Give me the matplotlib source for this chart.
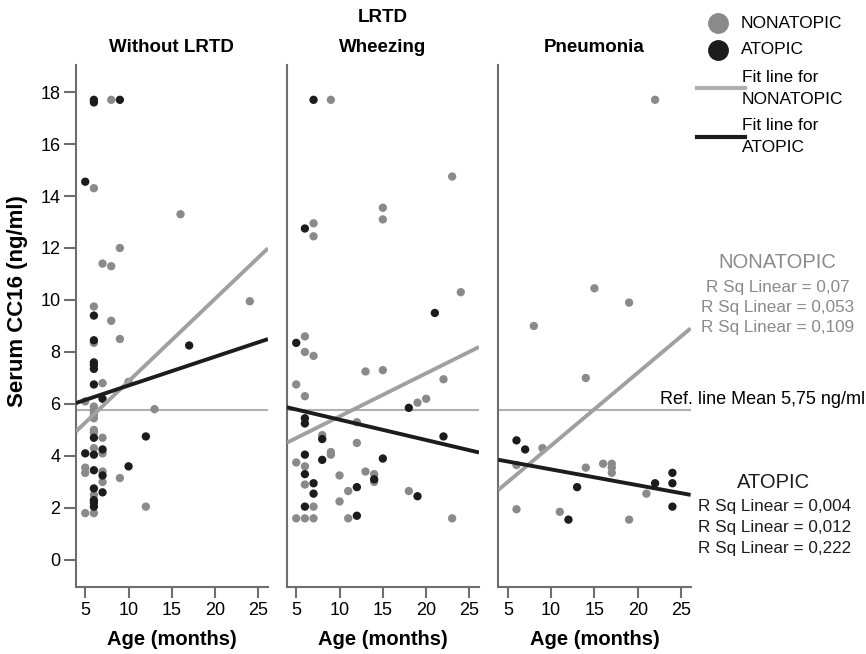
import matplotlib
matplotlib.use("Agg")
import matplotlib.pyplot as plt
from matplotlib.lines import Line2D

W_PX, H_PX = 866, 654

PANELS = ["Without LRTD", "Wheezing", "Pneumonia"]

# Without LRTD
NOLRTD_NONATOPIC_AGE = [8, 6, 16, 9, 7, 8, 24, 6, 8, 9, 6, 7, 10, 5, 6, 6, 6, 6, 13, 6, 6, 7, 7, 6,
                        5, 5, 7, 7, 9, 6, 12, 5, 6]
NOLRTD_NONATOPIC_CC16 = [17.7, 14.3, 13.3, 12.0, 11.4, 11.3, 9.95, 9.75, 9.2, 8.5, 8.35, 6.8, 6.85, 6.1,
                         5.9, 5.75, 5.6, 5.45, 5.8, 5.0, 4.9, 4.7, 4.1, 4.3, 3.55, 3.35, 3.4, 3.0, 3.15,
                         2.5, 2.05, 1.8, 1.8]
NOLRTD_ATOPIC_AGE = [6, 6, 9, 5, 6, 6, 17, 6, 6, 6, 6, 7, 6, 12, 7, 5, 6, 6, 10, 7, 6, 7, 6, 6, 6]
NOLRTD_ATOPIC_CC16 = [17.7, 17.6, 17.7, 14.55, 9.4, 8.45, 8.25, 7.6, 7.5, 7.35, 6.75, 6.2, 4.7, 4.75,
                      4.25, 4.1, 4.05, 3.45, 3.6, 3.25, 2.75, 2.6, 2.3, 2.2, 2.05]

# Wheezing
WHEEZ_NONATOPIC_AGE = [9, 23, 15, 15, 7, 7, 24, 6, 6, 7, 13, 15, 22, 5, 6, 20, 19, 12, 8, 12, 9, 9, 5,
                       6, 10, 13, 14, 14, 6, 11, 18, 10, 7, 5, 6, 7, 11, 23]
WHEEZ_NONATOPIC_CC16 = [17.7, 14.75, 13.55, 13.1, 12.95, 12.45, 10.3, 8.6, 8.0, 7.85, 7.25, 7.3, 6.95,
                        6.75, 6.3, 6.2, 6.05, 5.3, 4.8, 4.5, 4.15, 4.05, 3.75, 3.6, 3.25, 3.4, 3.3, 3.0,
                        2.9, 2.65, 2.65, 2.25, 2.05, 1.6, 1.6, 1.6, 1.6, 1.6]
WHEEZ_ATOPIC_AGE = [7, 6, 21, 5, 18, 6, 6, 8, 22, 6, 8, 15, 14, 6, 7, 7, 12, 19, 6, 12]
WHEEZ_ATOPIC_CC16 = [17.7, 12.75, 9.5, 8.35, 5.85, 5.45, 5.25, 4.65, 4.75, 4.05, 3.85, 3.9, 3.1, 3.3,
                     2.95, 2.55, 2.8, 2.45, 2.05, 1.7]

# Pneumonia
PNEU_NONATOPIC_AGE = [22, 15, 19, 8, 14, 9, 6, 14, 16, 17, 17, 17, 21, 6, 11, 19]
PNEU_NONATOPIC_CC16 = [17.7, 10.45, 9.9, 9.0, 7.0, 4.3, 3.65, 3.55, 3.7, 3.7, 3.55, 3.35, 2.55, 1.95,
                       1.85, 1.55]
PNEU_ATOPIC_AGE = [6, 7, 13, 22, 24, 24, 24, 12]
PNEU_ATOPIC_CC16 = [4.6, 4.25, 2.8, 2.95, 3.35, 2.95, 2.05, 1.55]

# fit lines: intercept, slope per panel
FIT_NONATOPIC = [(3.69, 0.318), (3.86, 0.166), (1.60, 0.280)]
FIT_ATOPIC = [(5.60, 0.111), (6.18, -0.0784), (4.09, -0.0608)]

REF_MEAN = "5,75"
REF_VALUE = 5.75
R2_NONATOPIC = ["0,07", "0,053", "0,109"]
R2_ATOPIC = ["0,004", "0,012", "0,222"]

GREY = "#8a8a8a"
BLACK = "#1c1c1c"
FIT_GREY = "#a0a0a0"
REF_GREY = "#b0b0b0"
SPINE = "#6e6e6e"

XLIM = (3.9, 26.1)
YLIM = (-1.03, 19.04)


def fx(px):
    return px / W_PX


def fy(py):
    return 1 - py / H_PX


def draw_panel(ax, title, non_x, non_y, at_x, at_y, fit_non, fit_at, first):
    ax.set_xlim(*XLIM)
    ax.set_ylim(*YLIM)
    ax.axhline(REF_VALUE, color=REF_GREY, lw=1.5, zorder=1)
    ax.scatter(non_x, non_y, s=36, color=GREY, edgecolors="none", zorder=2)
    ax.scatter(at_x, at_y, s=36, color=BLACK, edgecolors="none", zorder=3)
    xs = list(XLIM)
    b, m = fit_non
    ax.plot(xs, [b + m * x for x in xs], color=FIT_GREY, lw=2.8, zorder=4, solid_capstyle="butt")
    b, m = fit_at
    ax.plot(xs, [b + m * x for x in xs], color=BLACK, lw=2.8, zorder=5, solid_capstyle="butt")

    for side in ["top", "right"]:
        ax.spines[side].set_visible(False)
    for side in ["left", "bottom"]:
        ax.spines[side].set_color(SPINE)
        ax.spines[side].set_linewidth(1.5)
    ax.set_xticks([5, 10, 15, 20, 25])
    ax.tick_params(axis="x", direction="out", length=8, width=1.5, color=SPINE,
                   labelsize=13, pad=3)
    if first:
        ax.set_yticks(range(0, 19, 2))
        ax.tick_params(axis="y", direction="out", length=9, width=1.5, color=SPINE,
                       labelsize=13, pad=2)
    else:
        ax.set_yticks([])
    ax.set_xlabel("Age (months)", fontsize=14.5, fontweight="bold", labelpad=8)
    ax.set_title(title, fontsize=13.5, fontweight="bold", pad=9)


def draw_legend(fig):
    fig.add_artist(Line2D([fx(718)], [fy(23)], marker="o", ms=14, color=GREY, lw=0,
                          transform=fig.transFigure))
    fig.text(fx(741), fy(23), "NONATOPIC", fontsize=12.5, va="center", ha="left")
    fig.add_artist(Line2D([fx(718)], [fy(50)], marker="o", ms=14, color=BLACK, lw=0,
                          transform=fig.transFigure))
    fig.text(fx(741), fy(50), "ATOPIC", fontsize=12.5, va="center", ha="left")
    fig.add_artist(Line2D([fx(697), fx(745)], [fy(88), fy(88)], color="#b0b0b0", lw=3,
                          transform=fig.transFigure))
    fig.text(fx(742), fy(77), "Fit line for", fontsize=12.5, va="center", ha="left")
    fig.text(fx(742), fy(99), "NONATOPIC", fontsize=12.5, va="center", ha="left")
    fig.add_artist(Line2D([fx(697), fx(745)], [fy(137), fy(137)], color=BLACK, lw=3,
                          transform=fig.transFigure))
    fig.text(fx(742), fy(125), "Fit line for", fontsize=12.5, va="center", ha="left")
    fig.text(fx(742), fy(147), "ATOPIC", fontsize=12.5, va="center", ha="left")


def draw_annotations(fig):
    fig.text(fx(777), fy(262), "NONATOPIC", fontsize=14.5, color=GREY, ha="center", va="center")
    for i, r2 in enumerate(R2_NONATOPIC):
        fig.text(fx(778), fy(287 + 20.5 * i), f"R Sq Linear = {r2}", fontsize=12.3, color=GREY,
                 ha="center", va="center")
    fig.text(fx(865), fy(400), f"Ref. line Mean {REF_MEAN} ng/ml",
             fontsize=13, ha="right", va="center")
    fig.text(fx(774), fy(483), "ATOPIC", fontsize=14.5, color=BLACK, ha="center", va="center")
    for i, r2 in enumerate(R2_ATOPIC):
        fig.text(fx(775), fy(507 + 20.5 * i), f"R Sq Linear = {r2}", fontsize=12.3, color=BLACK,
                 ha="center", va="center")


def main() -> None:
    plt.rcParams["font.family"] = ["Liberation Sans", "DejaVu Sans"]
    fig = plt.figure(figsize=(W_PX / 100, H_PX / 100), dpi=100)
    lefts = [75.7, 286.7, 498.3]
    data = [
        (NOLRTD_NONATOPIC_AGE, NOLRTD_NONATOPIC_CC16, NOLRTD_ATOPIC_AGE, NOLRTD_ATOPIC_CC16),
        (WHEEZ_NONATOPIC_AGE, WHEEZ_NONATOPIC_CC16, WHEEZ_ATOPIC_AGE, WHEEZ_ATOPIC_CC16),
        (PNEU_NONATOPIC_AGE, PNEU_NONATOPIC_CC16, PNEU_ATOPIC_AGE, PNEU_ATOPIC_CC16),
    ]
    for i, left in enumerate(lefts):
        ax = fig.add_axes([fx(left), fy(586.7), 192.3 / W_PX, (586.7 - 65) / H_PX])
        nx, ny, axx, ayy = data[i]
        draw_panel(ax, PANELS[i], nx, ny, axx, ayy, FIT_NONATOPIC[i], FIT_ATOPIC[i], i == 0)

    fig.text(fx(383), fy(18), "LRTD", fontsize=13.5, fontweight="bold", ha="center", va="center")
    fig.text(fx(18), fy(301), "Serum CC16 (ng/ml)", fontsize=16, fontweight="bold",
             rotation=90, ha="center", va="center")
    draw_legend(fig)
    draw_annotations(fig)
    fig.savefig("out.png", dpi=100)
    plt.close(fig)


if __name__ == "__main__":
    main()
